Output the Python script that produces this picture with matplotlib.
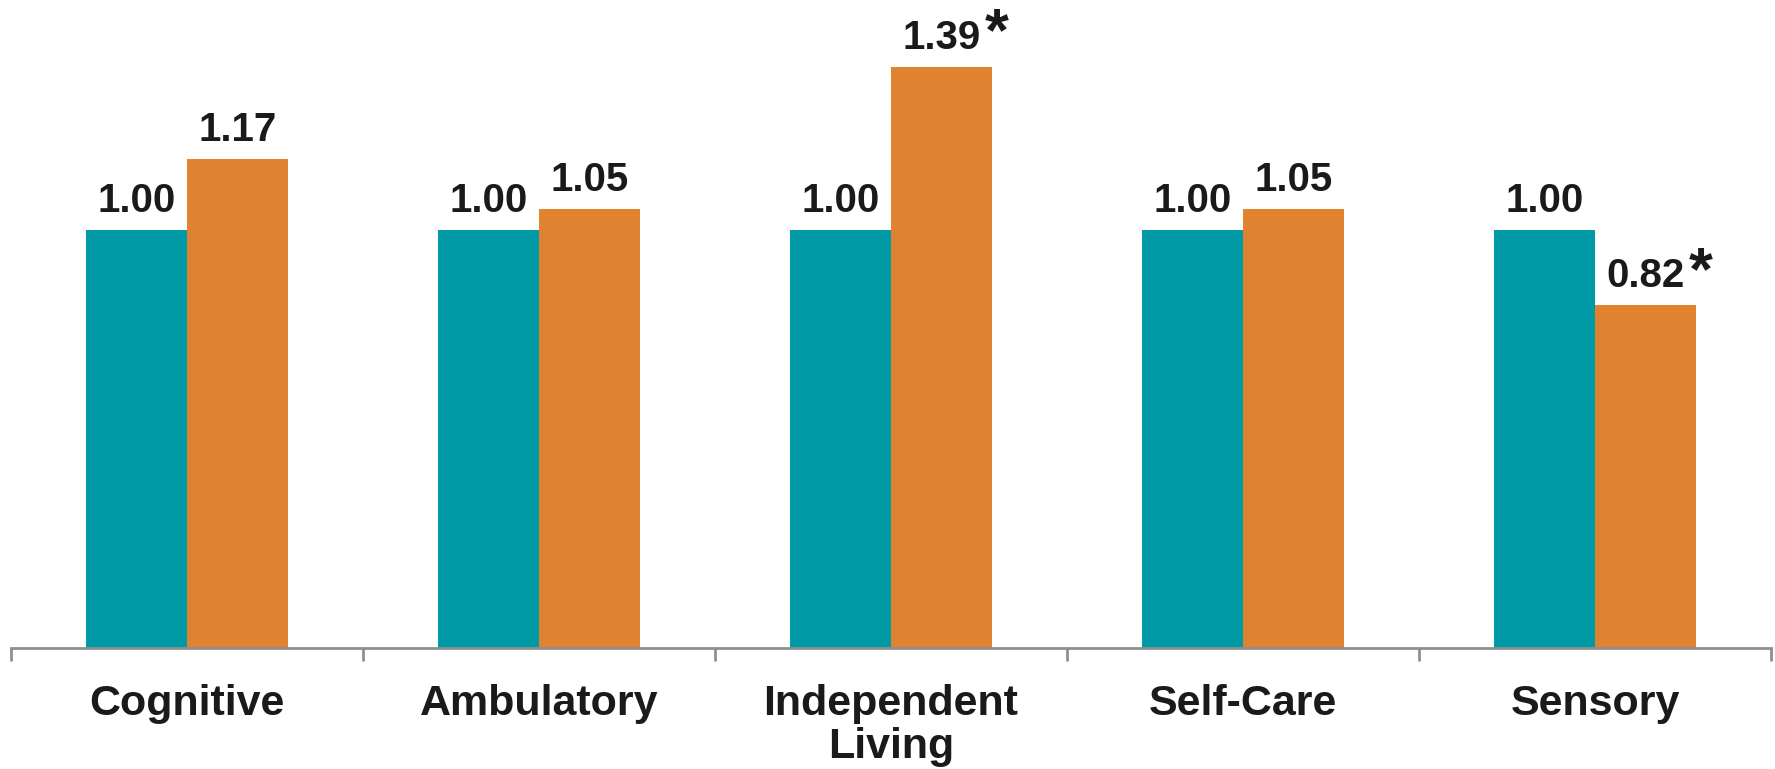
import matplotlib
matplotlib.use("Agg")
import matplotlib.pyplot as plt
import numpy as np

categories = ["Cognitive", "Ambulatory", "Independent\nLiving", "Self-Care", "Sensory"]
series_a = [1.00, 1.00, 1.00, 1.00, 1.00]
series_b = [1.17, 1.05, 1.39, 1.05, 0.82]
significant_b = [False, False, True, False, True]

teal = "#009AA7"
orange = "#E08331"
text_color = "#1a1a1a"
axis_color = "#8f8f8f"

plt.rcParams['font.family'] = ['Liberation Sans', 'DejaVu Sans']

fig = plt.figure(figsize=(17.75, 7.69), dpi=100)
ax = fig.add_axes([11/1775, (769-648)/769, (1771-11)/1775, 648/769])

x = np.arange(len(categories))
w = 0.286
bars_a = ax.bar(x - w/2, series_a, width=w, color=teal, linewidth=0)
bars_b = ax.bar(x + w/2, series_b, width=w, color=orange, linewidth=0)

ax.set_xlim(-0.5, len(categories) - 0.5)
ax.set_ylim(0, 1.55)

def label(bar, val, star):
    t = ax.annotate(f"{val:.2f}", xy=(bar.get_x() + bar.get_width()/2, bar.get_height()),
                    xytext=(0, 7), textcoords="offset points", ha="center", va="bottom",
                    fontsize=29, fontweight="bold", color=text_color)
    if star:
        ax.annotate("*", xy=(1, 1), xycoords=t, xytext=(3, 9), textcoords="offset points",
                    ha="left", va="top", fontsize=44, fontweight="bold", color=text_color)

for b, v in zip(bars_a, series_a):
    label(b, v, False)
for b, v, s in zip(bars_b, series_b, significant_b):
    label(b, v, s)

for side in ["top", "right", "left"]:
    ax.spines[side].set_visible(False)
ax.spines["bottom"].set_color(axis_color)
ax.spines["bottom"].set_linewidth(2)
ax.set_yticks([])

ax.set_xticks(x)
ax.set_xticklabels(categories, fontsize=31, fontweight="bold", color=text_color, linespacing=1.08)
ax.tick_params(axis="x", which="major", length=0, pad=26)
ax.set_xticks(np.arange(-0.5, len(categories)), minor=True)
ax.tick_params(axis="x", which="minor", length=9.5, width=2, color=axis_color, direction="out")

fig.savefig("out.png", dpi=100)
